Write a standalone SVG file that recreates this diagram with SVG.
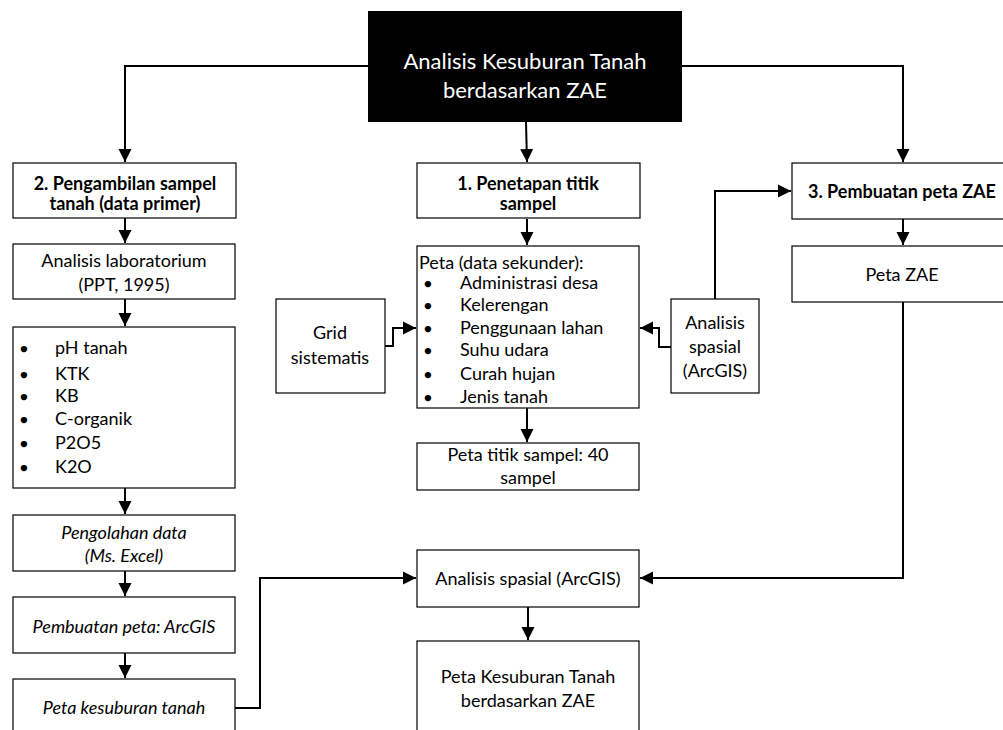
<svg xmlns="http://www.w3.org/2000/svg" width="1003" height="730" viewBox="0 0 1003 730">
<style>
.box{fill:#fff;stroke:#000;stroke-width:1.2}
.t{font-family:Lato,"Noto Sans",sans-serif;font-size:18px;fill:#000}
.c{text-anchor:middle}
.b{font-weight:bold}
.i{font-style:italic}
.dot{font-size:13px}
.ttl{font-family:Lato,"Noto Sans",sans-serif;font-size:22px;fill:#fff;text-anchor:middle}
.ln{fill:none;stroke:#000;stroke-width:2}
</style>
<defs>
<marker id="ar" markerUnits="userSpaceOnUse" markerWidth="14" markerHeight="14" viewBox="0 0 14 14" refX="13" refY="7" orient="auto">
<path d="M0,0.5 L13,7 L0,13.5 Z" fill="#000"/>
</marker>
</defs>
<rect width="1003" height="730" fill="#fff"/>
<g id="connectors">
<path class="ln" d="M368,66 H125 V162" marker-end="url(#ar)"/>
<path class="ln" d="M682,66 H903 V162" marker-end="url(#ar)"/>
<path class="ln" d="M526,122 L527,162" marker-end="url(#ar)"/>
<path class="ln" d="M125,218 V243" marker-end="url(#ar)"/>
<path class="ln" d="M125,299 V326" marker-end="url(#ar)"/>
<path class="ln" d="M125,488 V514" marker-end="url(#ar)"/>
<path class="ln" d="M125,571 V596" marker-end="url(#ar)"/>
<path class="ln" d="M125,653 V678" marker-end="url(#ar)"/>
<path class="ln" d="M527,219 V245" marker-end="url(#ar)"/>
<path class="ln" d="M527,408 V442" marker-end="url(#ar)"/>
<path class="ln" d="M903,219 V245" marker-end="url(#ar)"/>
<path class="ln" d="M385,346 H393 V328 H416" marker-end="url(#ar)"/>
<path class="ln" d="M671,347 H659 V328 H640" marker-end="url(#ar)"/>
<path class="ln" d="M715,299 V191 H791" marker-end="url(#ar)"/>
<path class="ln" d="M903,302 V578 H640" marker-end="url(#ar)"/>
<path class="ln" d="M235,708 H260 V578 H416" marker-end="url(#ar)"/>
<path class="ln" d="M528,607 V640" marker-end="url(#ar)"/>
</g>
<g id="n-main">
<rect x="368" y="11" width="314" height="111" fill="#000"/>
<text class="ttl" x="525" y="69">Analisis Kesuburan Tanah</text>
<text class="ttl" x="525" y="98">berdasarkan ZAE</text>
</g>
<g id="n-pengambilan">
<rect class="box" x="13" y="163" width="223" height="55"/>
<text class="t c b" x="125" y="190">2. Pengambilan sampel</text>
<text class="t c b" x="125" y="210">tanah (data primer)</text>
</g>
<g id="n-penetapan">
<rect class="box" x="417" y="163" width="223" height="55"/>
<text class="t c b" x="528" y="190">1. Penetapan titik</text>
<text class="t c b" x="528" y="210">sampel</text>
</g>
<g id="n-pembuatan-zae">
<rect class="box" x="792" y="163" width="230" height="56"/>
<text class="t c b" x="902" y="198">3. Pembuatan peta ZAE</text>
</g>
<g id="n-peta-zae">
<rect class="box" x="792" y="246" width="230" height="56"/>
<text class="t c" x="902" y="281">Peta ZAE</text>
</g>
<g id="n-lab">
<rect class="box" x="13" y="244" width="222" height="55"/>
<text class="t c" x="124" y="267">Analisis laboratorium</text>
<text class="t c" x="124" y="291">(PPT, 1995)</text>
</g>
<g id="n-param">
<rect class="box" x="13" y="327" width="222" height="161"/>
<g class="t">
<text class="dot" x="20" y="353">●</text><text x="55" y="354">pH tanah</text>
<text class="dot" x="20" y="379">●</text><text x="55" y="380">KTK</text>
<text class="dot" x="20" y="401">●</text><text x="55" y="402">KB</text>
<text class="dot" x="20" y="424">●</text><text x="55" y="425">C-organik</text>
<text class="dot" x="20" y="448">●</text><text x="55" y="449">P2O5</text>
<text class="dot" x="20" y="472">●</text><text x="55" y="473">K2O</text>
</g>
</g>
<g id="n-olah">
<rect class="box" x="13" y="515" width="222" height="56"/>
<text class="t c i" x="124" y="539">Pengolahan data</text>
<text class="t c i" x="124" y="562">(Ms. Excel)</text>
</g>
<g id="n-buatpeta">
<rect class="box" x="13" y="597" width="222" height="56"/>
<text class="t c i" x="124" y="633">Pembuatan peta: ArcGIS</text>
</g>
<g id="n-petasubur">
<rect class="box" x="13" y="679" width="222" height="60"/>
<text class="t c i" x="124" y="714">Peta kesuburan tanah</text>
</g>
<g id="n-grid">
<rect class="box" x="276" y="299" width="109" height="94"/>
<text class="t c" x="330" y="339">Grid</text>
<text class="t c" x="330" y="364">sistematis</text>
</g>
<g id="n-petasekunder">
<rect class="box" x="417" y="246" width="222" height="162"/>
<g class="t">
<text x="419" y="269">Peta (data sekunder):</text>
<text class="dot" x="424" y="288">●</text><text x="460" y="289">Administrasi desa</text>
<text class="dot" x="424" y="310">●</text><text x="460" y="311">Kelerengan</text>
<text class="dot" x="424" y="333">●</text><text x="460" y="334">Penggunaan lahan</text>
<text class="dot" x="424" y="355">●</text><text x="460" y="356">Suhu udara</text>
<text class="dot" x="424" y="379">●</text><text x="460" y="380">Curah hujan</text>
<text class="dot" x="424" y="402">●</text><text x="460" y="403">Jenis tanah</text>
</g>
</g>
<g id="n-analisis-spasial-kecil">
<rect class="box" x="671" y="299" width="88" height="94"/>
<text class="t c" x="715" y="329">Analisis</text>
<text class="t c" x="715" y="353">spasial</text>
<text class="t c" x="715" y="377">(ArcGIS)</text>
</g>
<g id="n-titiksampel">
<rect class="box" x="417" y="443" width="222" height="47"/>
<text class="t c" x="528" y="461">Peta titik sampel: 40</text>
<text class="t c" x="528" y="484">sampel</text>
</g>
<g id="n-analisis-spasial">
<rect class="box" x="417" y="550" width="222" height="57"/>
<text class="t c" x="528" y="585">Analisis spasial (ArcGIS)</text>
</g>
<g id="n-hasil">
<rect class="box" x="417" y="641" width="222" height="100"/>
<text class="t c" x="528" y="683">Peta Kesuburan Tanah</text>
<text class="t c" x="528" y="707">berdasarkan ZAE</text>
</g>
</svg>
